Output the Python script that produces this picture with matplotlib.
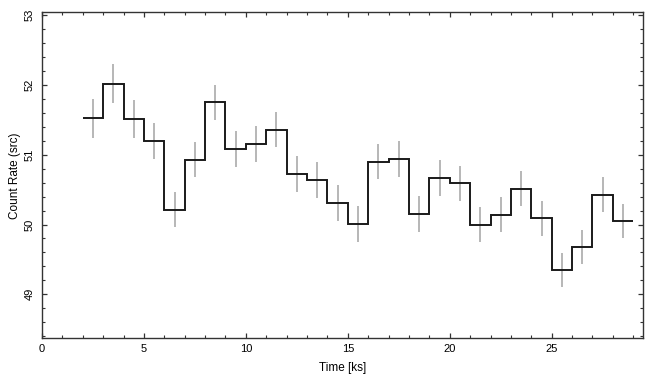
import matplotlib
matplotlib.use("Agg")
import matplotlib.pyplot as plt
import numpy as np
from matplotlib.ticker import MultipleLocator

plt.rcParams['font.family'] = ['Liberation Sans', 'DejaVu Sans']

bin_edges = [2, 3, 4, 5, 6, 7, 8, 9, 10, 11, 12, 13, 14, 15, 16, 17, 18, 19,
             20, 21, 22, 23, 24, 25, 26, 27, 28, 29]
rate = [51.52, 52.02, 51.51, 51.20, 50.21, 50.93, 51.75, 51.08, 51.15, 51.36,
        50.72, 50.64, 50.31, 50.01, 50.90, 50.94, 50.15, 50.67, 50.59, 50.00,
        50.14, 50.51, 50.09, 49.35, 49.68, 50.43, 50.05]
rate_err = [0.28, 0.28, 0.27, 0.26, 0.25, 0.25, 0.25, 0.255, 0.255, 0.255,
            0.255, 0.255, 0.255, 0.255, 0.255, 0.255, 0.255, 0.255, 0.255, 0.255,
            0.25, 0.25, 0.25, 0.245, 0.245, 0.245, 0.245]

edges = np.array(bin_edges, dtype=float)
centers = (edges[:-1] + edges[1:]) / 2

fig = plt.figure(figsize=(6.55, 3.85), dpi=100)
ax = fig.add_axes([0.0641, 0.1213, 0.9183, 0.8467])

ax.errorbar(centers, rate, yerr=rate_err, fmt='none', ecolor='#aaaaaa',
            elinewidth=1.2, capsize=0, zorder=2)
ax.stairs(rate, edges, color='#1a1a1a', linewidth=1.4, baseline=None, zorder=3)

ax.set_xlim(0, 29.5)
ax.set_ylim(48.37, 53.04)

ax.xaxis.set_major_locator(MultipleLocator(5))
ax.xaxis.set_minor_locator(MultipleLocator(1))
ax.yaxis.set_major_locator(MultipleLocator(1))
ax.yaxis.set_minor_locator(MultipleLocator(0.2))

ax.tick_params(which='both', direction='in', top=True, right=True,
               color='#333333', labelsize=8)
ax.tick_params(which='major', length=3.5, width=0.9)
ax.tick_params(which='minor', length=2, width=0.8)
ax.tick_params(axis='x', pad=4)
ax.tick_params(axis='y', pad=5)
for lab in ax.get_yticklabels():
    lab.set_rotation(90)
    lab.set_va('center')

for s in ax.spines.values():
    s.set_color('#333333')
    s.set_linewidth(1.0)

ax.set_xlabel('Time [ks]', fontsize=8.5, labelpad=6)
ax.set_ylabel('Count Rate (src)', fontsize=8.5, labelpad=3)

fig.savefig('out.png', dpi=100)
